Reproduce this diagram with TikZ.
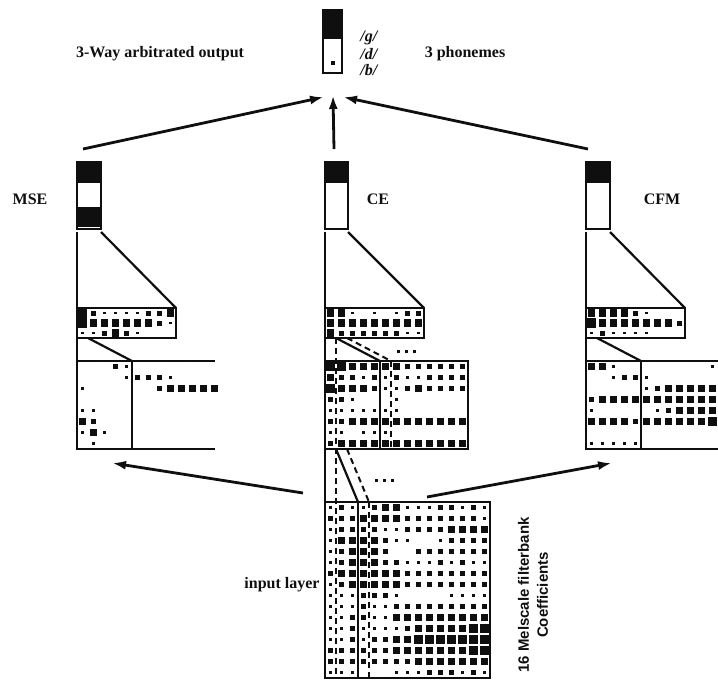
\documentclass[tikz,border=0pt]{standalone}
\usepackage{fontspec}
\setmainfont{Liberation Serif}
\setsansfont{Liberation Sans}
\usepackage{tikz}
\usetikzlibrary{arrows.meta}
\definecolor{inkblack}{RGB}{15,15,15}

% Hinton squares of one layer: x0, y0, cell width, cell height, rows
\newcommand{\hintonlayer}[5]{%
  \foreach \row [count=\r] in {#5} {
    \foreach \v [count=\c] in \row {
      \pgfmathsetmacro{\s}{\v>0 ? 2.1*\v+0.8 : 0}
      \fill[inkblack] ({#1+(\c-0.5)*#3-\s/2}, {#2+(\r-0.5)*#4-\s/2}) rectangle ++(\s,\s);
    }
  }
}

\begin{document}
\begin{tikzpicture}[x=0.5pt, y=-0.5pt,
    framebox/.style={draw=inkblack, line width=0.9pt},
    linkline/.style={draw=inkblack, line width=1.1pt},
    dashline/.style={draw=inkblack, line width=1pt, dash pattern=on 3pt off 2pt},
    bigarrow/.style={draw=inkblack, line width=1.4pt, -{Latex[length=7pt,width=4.5pt]}},
    lbl/.style={font=\bfseries\fontsize{8}{9.6}\selectfont, text=inkblack, inner sep=1pt}]
    \useasboundingbox (0,0) rectangle (718,681);

    % Arbitrated output
    \draw[framebox] (323,10) rectangle (342,73);
    \fill[inkblack] (324,11) rectangle (341,39);
    \fill[inkblack] (331,61) rectangle (335,65);
    \node[lbl] (outLabel) at (160,54) {3-Way arbitrated output};
    \node[lbl, anchor=west, font=\bfseries\itshape\fontsize{8}{9.6}\selectfont] (gLabel) at (358,38) {/g/};
    \node[lbl, anchor=west, font=\bfseries\itshape\fontsize{8}{9.6}\selectfont] (dLabel) at (358,54) {/d/};
    \node[lbl, anchor=west, font=\bfseries\itshape\fontsize{8}{9.6}\selectfont] (bLabel) at (358,70) {/b/};
    \node[lbl] (phonLabel) at (465,54) {3 phonemes};

    \coordinate (headL) at (324,97);
    \coordinate (headC) at (333,95);
    \coordinate (headR) at (343,97);
    \coordinate (mseTail) at (83,149);
    \coordinate (ceTail) at (334,149);
    \coordinate (cfmTail) at (588,149);
    \draw[bigarrow] (mseTail) -- (headL);
    \draw[bigarrow] (ceTail) -- (headC);
    \draw[bigarrow] (cfmTail) -- (headR);

    % MSE network
    \node[lbl] (mseLabel) at (30,199) {MSE};
    \draw[framebox] (77,162) rectangle (101,229);
    \fill[inkblack] (78,163) rectangle (100,183);
    \fill[inkblack] (78,207) rectangle (100,227);
    \draw[linkline] (77,232) -- (77,449);
    \draw[linkline] (101,232) -- (176,308);
    \draw[framebox] (77,308) rectangle (176,338);
    \hintonlayer{77}{308}{11}{10}{{4,2,1,1,1,1,2,2,3},{4,3,3,3,3,3,3,2,1},{1,1,2,3,2,1,0,0,0}}
    \draw[linkline] (88,338) -- (132,361);
    \draw[framebox] (77,361) rectangle (132,449);
    \draw[framebox] (132,361) -- (215,361);
    \draw[framebox] (132,449) -- (215,449);
    \hintonlayer{77}{361}{11}{11}{{0,0,0,2,1,0,0,0,0,0,0,0,0},{0,0,0,0,1,2,2,2,1,0,0,0,0},
      {1,0,0,0,0,0,0,2,3,3,3,3,3},{0,0,0,0,0,0,0,0,0,0,0,0,0},{1,1,0,0,0,0,0,0,0,0,0,0,0},
      {3,2,0,0,0,0,0,0,0,0,0,0,0},{1,3,1,0,0,0,0,0,0,0,0,0,0},{0,1,0,0,0,0,0,0,0,0,0,0,0}}

    % CE network
    \node[lbl] (ceLabel) at (378,199) {CE};
    \draw[framebox] (325,162) rectangle (348,229);
    \fill[inkblack] (326,163) rectangle (347,183);
    \draw[linkline] (325,232) -- (325,678);
    \draw[linkline] (348,232) -- (424,308);
    \draw[framebox] (325,308) rectangle (424,338);
    \hintonlayer{325}{308}{11}{10}{{3,3,1,0,1,0,1,2,2},{3,3,3,3,3,3,3,3,3},{3,2,2,2,2,2,2,1,1}}
    \draw[linkline] (336,338) -- (380,361);
    \draw[dashline] (347,338) -- (391,361);
    \draw[dashline] (336,338) -- (336,678);
    \foreach \i in {0,1,2}
        \fill[inkblack] ({398+\i*8-1.5},349.5) rectangle ++(3.5,3.5);
    \draw[framebox] (325,361) rectangle (468,449);
    \draw[framebox] (380,361) -- (380,449);
    \draw[dashline] (391,361) -- (391,449);
    \hintonlayer{325}{361}{11}{11}{{4,4,3,3,3,3,3,2,2,2,2,2,2},{3,2,2,1,2,1,2,1,1,2,2,2,2},
      {4,3,3,3,2,1,1,2,3,2,2,2,2},{2,2,1,0,0,0,1,0,0,0,0,0,0},{1,1,1,1,1,1,1,0,0,0,0,0,0},
      {2,2,3,3,3,3,3,3,3,3,3,3,3},{1,1,0,1,1,1,0,0,0,0,0,0,0},{2,3,3,3,3,3,3,3,3,3,3,3,3}}
    \draw[linkline] (336,449) -- (358,502);
    \draw[dashline] (347,449) -- (369,502);
    \foreach \i in {0,1,2}
        \fill[inkblack] ({376+\i*8-1.5},478.5) rectangle ++(3.5,3.5);

    % CFM network
    \node[lbl] (cfmLabel) at (662,199) {CFM};
    \draw[framebox] (586,162) rectangle (610,229);
    \fill[inkblack] (587,163) rectangle (609,183);
    \draw[linkline] (586,232) -- (586,449);
    \draw[linkline] (610,232) -- (685,308);
    \draw[framebox] (586,308) rectangle (685,338);
    \hintonlayer{586}{308}{11}{10}{{3,3,3,3,2,1,0,0,0},{4,3,3,3,3,3,3,3,2},{1,2,1,1,1,1,0,0,0}}
    \draw[linkline] (597,338) -- (641,361);
    \draw[framebox] (586,361) rectangle (641,449);
    \draw[framebox] (641,361) -- (718,361);
    \draw[framebox] (641,449) -- (718,449);
    \begin{scope}
        \clip (580,355) rectangle (718,455);
        \hintonlayer{586}{361}{11}{11}{{3,3,1,0,0,0,0,0,0,0,0,1,0},{0,0,1,2,2,1,0,0,0,0,0,0,0},
          {0,0,0,0,0,1,2,3,3,3,3,3,3},{2,3,3,3,3,3,3,3,3,3,3,3,3},{1,0,0,0,0,0,1,2,3,3,3,3,3},
          {3,3,3,3,2,3,3,3,3,3,3,4,4},{0,0,0,0,0,0,0,0,0,0,0,0,0},{1,1,1,1,1,0,0,0,0,0,0,0,0}}
    \end{scope}

    % Input layer
    \draw[framebox] (325,502) rectangle (490,678);
    \draw[framebox] (358,502) -- (358,678);
    \draw[dashline] (369,502) -- (369,678);
    \hintonlayer{325}{502}{11}{11}{{1,2,1,1,2,3,3,1,1,1,2,2,1,2,1},{2,2,2,3,3,3,3,2,2,2,2,2,2,2,1},
      {1,2,2,2,2,1,1,2,2,2,2,3,3,3,3},{1,3,3,3,3,2,1,1,0,0,1,2,2,2,2},
      {1,2,3,3,3,2,0,0,2,2,2,2,2,2,2},{1,2,3,3,3,2,2,1,1,1,2,1,2,1,1},
      {2,3,3,3,3,3,3,2,2,2,2,2,2,2,2},{1,2,3,3,3,3,3,2,2,2,2,2,2,2,2},
      {1,1,1,2,2,2,1,0,0,0,0,1,1,1,1},{1,1,1,2,1,1,2,2,2,2,2,2,2,2,2},
      {1,1,2,2,1,1,3,3,3,3,3,3,3,3,3},{1,1,2,1,1,1,1,2,3,3,3,3,3,4,4},
      {1,1,2,1,2,2,3,3,4,4,4,4,4,4,4},{2,2,2,2,2,2,3,3,3,3,3,3,3,4,4},
      {2,2,2,2,2,2,2,2,3,3,3,3,3,3,3},{1,1,1,0,0,0,1,1,1,2,2,2,1,2,1}}
    \node[lbl] (inLabel) at (282,585) {input layer};
    \node[rotate=90, align=center, text=inkblack, font=\sffamily\bfseries\fontsize{7.5}{9.5}\selectfont]
        (coefLabel) at (533,595) {16 Melscale filterbank\\Coefficients};

    \coordinate (inTailL) at (303,493);
    \coordinate (inTailR) at (427,497);
    \coordinate (mseHead) at (112,463);
    \coordinate (cfmHead) at (612,463);
    \draw[bigarrow] (inTailL) -- (mseHead);
    \draw[bigarrow] (inTailR) -- (cfmHead);
\end{tikzpicture}
\end{document}
